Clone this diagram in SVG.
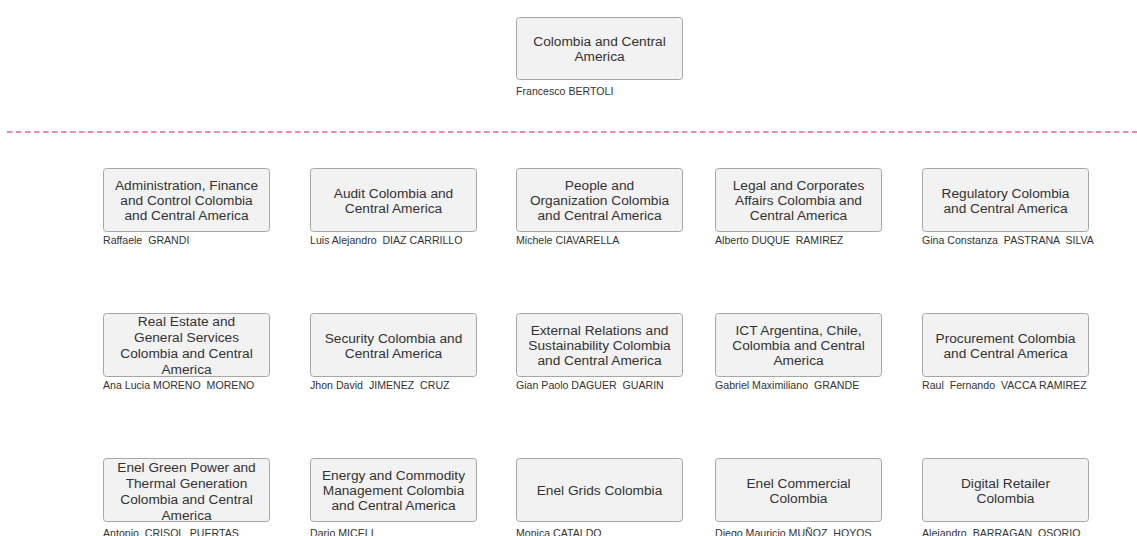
<svg xmlns="http://www.w3.org/2000/svg" width="1137" height="536" viewBox="0 0 1137 536">
<style>
.box{fill:#f2f2f2;stroke:#a6a6a6;stroke-width:1}
.t{font-family:"Liberation Sans",Arial,sans-serif;font-size:13.7px;fill:#333333;text-anchor:middle}
.n{font-family:"Liberation Sans",Arial,sans-serif;font-size:10.6px;fill:#333333;white-space:pre}
.sep{stroke:#f06292;stroke-width:1.5;stroke-dasharray:5.5 3.5;fill:none}
</style>
<rect width="1137" height="536" fill="#ffffff"/>
<g id="separator"><line class="sep" x1="7" y1="132" x2="1137" y2="132"/></g>
<g id="node-root">
<rect class="box" x="516.5" y="17.5" width="166" height="62" rx="3"/>
<text class="t" x="599.5" y="46">Colombia and Central</text>
<text class="t" x="599.5" y="61">America</text>
<text class="n" x="516" y="95">Francesco BERTOLI</text>
</g>
<g id="node-admin">
<rect class="box" x="103.5" y="168.5" width="166" height="63" rx="3"/>
<text class="t" x="186.5" y="190">Administration, Finance</text>
<text class="t" x="186.5" y="205">and Control Colombia</text>
<text class="t" x="186.5" y="220">and Central America</text>
<text class="n" x="103" y="244">Raffaele  GRANDI</text>
</g>
<g id="node-audit">
<rect class="box" x="310.5" y="168.5" width="166" height="63" rx="3"/>
<text class="t" x="393.5" y="197.5">Audit Colombia and</text>
<text class="t" x="393.5" y="212.5">Central America</text>
<text class="n" x="310" y="244">Luis Alejandro  DIAZ CARRILLO</text>
</g>
<g id="node-people">
<rect class="box" x="516.5" y="168.5" width="166" height="63" rx="3"/>
<text class="t" x="599.5" y="190">People and</text>
<text class="t" x="599.5" y="205">Organization Colombia</text>
<text class="t" x="599.5" y="220">and Central America</text>
<text class="n" x="516" y="244">Michele CIAVARELLA</text>
</g>
<g id="node-legal">
<rect class="box" x="715.5" y="168.5" width="166" height="63" rx="3"/>
<text class="t" x="798.5" y="190">Legal and Corporates</text>
<text class="t" x="798.5" y="205">Affairs Colombia and</text>
<text class="t" x="798.5" y="220">Central America</text>
<text class="n" x="715" y="244">Alberto DUQUE  RAMIREZ</text>
</g>
<g id="node-regulatory">
<rect class="box" x="922.5" y="168.5" width="166" height="63" rx="3"/>
<text class="t" x="1005.5" y="197.5">Regulatory Colombia</text>
<text class="t" x="1005.5" y="212.5">and Central America</text>
<text class="n" x="922" y="244">Gina Constanza  PASTRANA  SILVA</text>
</g>
<g id="node-realestate">
<rect class="box" x="103.5" y="313.5" width="166" height="63" rx="3"/>
<text class="t" x="186.5" y="325.5">Real Estate and</text>
<text class="t" x="186.5" y="341.5">General Services</text>
<text class="t" x="186.5" y="357.5">Colombia and Central</text>
<text class="t" x="186.5" y="373.5">America</text>
<text class="n" x="103" y="389">Ana Lucia MORENO  MORENO</text>
</g>
<g id="node-security">
<rect class="box" x="310.5" y="313.5" width="166" height="63" rx="3"/>
<text class="t" x="393.5" y="342.5">Security Colombia and</text>
<text class="t" x="393.5" y="357.5">Central America</text>
<text class="n" x="310" y="389">Jhon David  JIMENEZ  CRUZ</text>
</g>
<g id="node-external">
<rect class="box" x="516.5" y="313.5" width="166" height="63" rx="3"/>
<text class="t" x="599.5" y="335">External Relations and</text>
<text class="t" x="599.5" y="350">Sustainability Colombia</text>
<text class="t" x="599.5" y="365">and Central America</text>
<text class="n" x="516" y="389">Gian Paolo DAGUER  GUARIN</text>
</g>
<g id="node-ict">
<rect class="box" x="715.5" y="313.5" width="166" height="63" rx="3"/>
<text class="t" x="798.5" y="335">ICT Argentina, Chile,</text>
<text class="t" x="798.5" y="350">Colombia and Central</text>
<text class="t" x="798.5" y="365">America</text>
<text class="n" x="715" y="389">Gabriel Maximiliano  GRANDE</text>
</g>
<g id="node-procurement">
<rect class="box" x="922.5" y="313.5" width="166" height="63" rx="3"/>
<text class="t" x="1005.5" y="342.5">Procurement Colombia</text>
<text class="t" x="1005.5" y="357.5">and Central America</text>
<text class="n" x="922" y="389">Raul  Fernando  VACCA RAMIREZ</text>
</g>
<g id="node-egp">
<rect class="box" x="103.5" y="458.5" width="166" height="63" rx="3"/>
<text class="t" x="186.5" y="471.5">Enel Green Power and</text>
<text class="t" x="186.5" y="487.5">Thermal Generation</text>
<text class="t" x="186.5" y="503.5">Colombia and Central</text>
<text class="t" x="186.5" y="519.5">America</text>
<text class="n" x="103" y="537">Antonio  CRISOL  PUERTAS</text>
</g>
<g id="node-energy">
<rect class="box" x="310.5" y="458.5" width="166" height="63" rx="3"/>
<text class="t" x="393.5" y="480">Energy and Commodity</text>
<text class="t" x="393.5" y="495">Management Colombia</text>
<text class="t" x="393.5" y="510">and Central America</text>
<text class="n" x="310" y="537">Dario MICELI</text>
</g>
<g id="node-grids">
<rect class="box" x="516.5" y="458.5" width="166" height="63" rx="3"/>
<text class="t" x="599.5" y="495">Enel Grids Colombia</text>
<text class="n" x="516" y="537">Monica CATALDO</text>
</g>
<g id="node-commercial">
<rect class="box" x="715.5" y="458.5" width="166" height="63" rx="3"/>
<text class="t" x="798.5" y="487.5">Enel Commercial</text>
<text class="t" x="798.5" y="502.5">Colombia</text>
<text class="n" x="715" y="537">Diego Mauricio MUÑOZ  HOYOS</text>
</g>
<g id="node-digital">
<rect class="box" x="922.5" y="458.5" width="166" height="63" rx="3"/>
<text class="t" x="1005.5" y="487.5">Digital Retailer</text>
<text class="t" x="1005.5" y="502.5">Colombia</text>
<text class="n" x="922" y="537">Alejandro  BARRAGAN  OSORIO</text>
</g>
</svg>
